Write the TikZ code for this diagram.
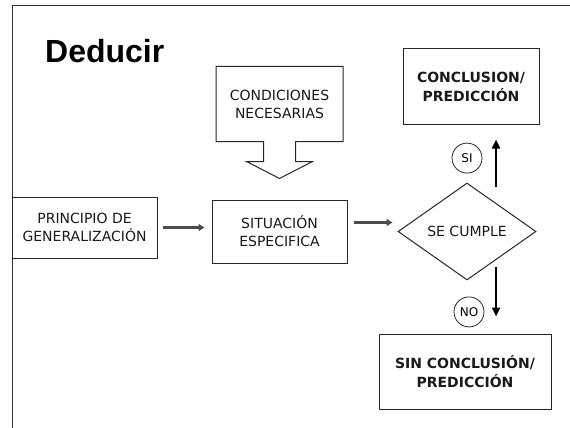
\documentclass[tikz,border=0pt]{standalone}
\usepackage{fontspec}
\setmainfont{DejaVu Sans}
\newfontfamily\titlefont{Liberation Sans}
\usetikzlibrary{arrows.meta,positioning,shapes.geometric,calc}
\tikzset{
  dbox/.style  ={draw=black!85, line width=1pt, align=center, inner sep=0pt,
                 font=\fontsize{14}{18}\selectfont, text=black!90},
  dbold/.style ={dbox, font=\fontsize{14}{19}\bfseries\selectfont},
  ddec/.style  ={draw=black!85, line width=1pt, diamond, inner sep=0pt,
                 minimum width=138pt, minimum height=97pt,
                 font=\fontsize{14}{18}\selectfont, text=black!90},
  dcirc/.style ={draw=black!85, line width=0.8pt, circle, minimum size=30pt,
                 inner sep=0pt, font=\fontsize{12}{12}\selectfont},
  dline/.style ={draw=black!85, line width=1pt},
  dar/.style   ={-{Triangle[length=6pt,width=7pt]}, line width=2.5pt, black!70},
  dbig/.style  ={-{Triangle[length=9pt,width=8pt]}, line width=2.5pt, black},
}
\begin{document}
\begin{tikzpicture}[x=1pt, y=-1pt]
\useasboundingbox (0,0) rectangle (570,428);
\draw[black!80, line width=1pt] (12,428) -- (12,6) -- (570,6);
\node[anchor=base west, inner sep=0pt,
      font=\titlefont\bfseries\fontsize{32}{32}\selectfont]
  (title) at (45,63) {Deducir};

\node[dbox, minimum width=135pt, minimum height=63pt] (sit) at (279.5,231.5)
  {SITUACIÓN\\ESPECIFICA};
\node[dbox, draw=none, minimum width=126pt, minimum height=74pt, above=58pt of sit]
  (cond) {CONDICIONES\\NECESARIAS};
\node[dbox, minimum width=145pt, minimum height=61pt, left=54pt of sit, yshift=4pt]
  (prin) {PRINCIPIO DE\\GENERALIZACIÓN};
\node[ddec, right=50pt of sit] (dec) {SE CUMPLE};
\node[dbold, minimum width=136pt, minimum height=75pt, above=58pt of dec, xshift=4pt]
  (concl) {CONCLUSION/\\PREDICCIÓN};
\node[dbold, minimum width=172pt, minimum height=75pt, below=53pt of dec, xshift=-2pt]
  (sin) {SIN CONCLUSIÓN/\\PREDICCIÓN};
\node[dcirc, above=9pt of dec] (si) {SI};
\node[dcirc, below=16pt of dec, xshift=2pt] (no) {NO};
\coordinate[right=29pt of dec.center] (arx);

% block arrow round the conditions
\draw[dline] (cond.south east) -- (cond.north east) -- (cond.north west)
  -- (cond.south west) -- ([xshift=-16pt]cond.south) -- ++(0,20) -- ++(-17,0)
  -- ++(33,17) -- ++(33,-17) -- ++(-17,0) -- ++(0,-20) -- cycle;

\draw[dar, shorten <=5pt, shorten >=7pt] (prin.east) -- (prin.east -| sit.west);
\draw[dar, shorten <=6pt, shorten >=5pt] ([yshift=9pt]sit.east)
  -- ([yshift=9pt]sit.east -| dec.west);
\draw[dbig, shorten <=45pt, shorten >=15pt] (arx) -- (concl.south -| arx);
\draw[dbig, shorten <=35pt, shorten >=17pt] (arx) -- (sin.north -| arx);
\end{tikzpicture}
\end{document}
